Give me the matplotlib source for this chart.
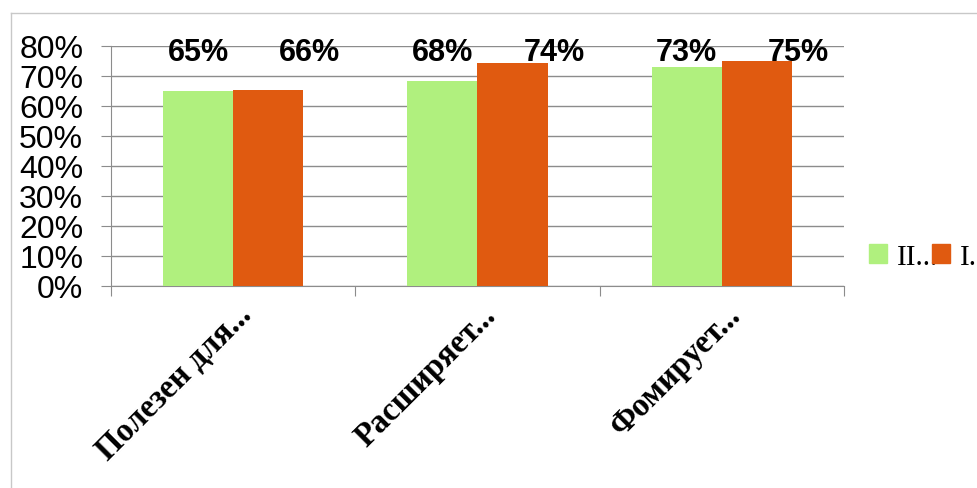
import matplotlib
matplotlib.use("Agg")
import matplotlib.pyplot as plt
import matplotlib.transforms as mtransforms
from matplotlib.ticker import FixedLocator, PercentFormatter
from matplotlib.lines import Line2D
from matplotlib.patches import Patch
import numpy as np

categories = ["Полезен для...", "Расширяет...", "Фомирует..."]
series_names = ["II...", "I..."]
series_ii = [0.65, 0.683, 0.73]
series_i = [0.655, 0.743, 0.751]
labels_ii = ["65%", "68%", "73%"]
labels_i = ["66%", "74%", "75%"]
colors = ["#B0F07E", "#E05A10"]

fig = plt.figure(figsize=(9.78, 4.89), dpi=100)
W, H = 978, 489
ax = fig.add_axes([111 / W, 1 - 287 / H, (844 - 111) / W, (287 - 47) / H])

# chart area border (top and left)
fig.add_artist(Line2D([11 / W, 11 / W], [0, 1 - 14 / H], transform=fig.transFigure, color="#C8C8C8", lw=1))
fig.add_artist(Line2D([11 / W, 1], [1 - 14 / H, 1 - 14 / H], transform=fig.transFigure, color="#C8C8C8", lw=1))

x = np.arange(len(categories))
bw = 0.287
ax.bar(x - bw / 2, series_ii, bw, color=colors[0], zorder=3)
ax.bar(x + bw / 2, series_i, bw, color=colors[1], zorder=3)

ax.set_xlim(-0.5, len(categories) - 0.5)
ax.set_ylim(0, 0.8)
ax.yaxis.set_major_locator(FixedLocator(np.arange(0, 0.81, 0.1)))
ax.yaxis.set_major_formatter(PercentFormatter(1.0, decimals=0))
ax.grid(axis="y", color="#8C8C8C", lw=1, zorder=0)

for s in ["top", "right"]:
    ax.spines[s].set_visible(False)
ax.spines["left"].set_color("#8C8C8C")
ax.spines["bottom"].set_color("#8C8C8C")

ax.tick_params(axis="y", length=7, color="#8C8C8C", pad=13, labelsize=23,
               labelfontfamily="Liberation Sans")
ax.set_xticks(np.arange(-0.5, len(categories)), minor=False)
ax.set_xticklabels([])
ax.tick_params(axis="x", which="major", length=7, color="#8C8C8C")
ax.set_xticks(x, minor=True)
ax.tick_params(axis="x", which="minor", length=0, pad=0)
ax.set_xticklabels(categories, minor=True, rotation=45, ha="right", va="center",
                   rotation_mode="anchor", fontsize=23.5, fontweight="bold",
                   fontfamily="Liberation Serif")
off = mtransforms.ScaledTranslation(14 / 100, -24 / 100, fig.dpi_scale_trans)
for lab in ax.get_xticklabels(minor=True):
    lab.set_transform(lab.get_transform() + off)

for i in range(len(categories)):
    ax.annotate(labels_ii[i], (x[i] - bw / 2, 0.8), xytext=(0, -4), textcoords="offset points",
                ha="center", va="center", fontsize=22, fontweight="bold", fontfamily="Liberation Sans")
    ax.annotate(labels_i[i], (x[i] + bw / 2, 0.8), xytext=(30, -4), textcoords="offset points",
                ha="center", va="center", fontsize=22, fontweight="bold", fontfamily="Liberation Sans")

handles = [Patch(color=colors[0]), Patch(color=colors[1])]
fig.legend(handles, series_names, loc="center left", bbox_to_anchor=(869 / W, 1 - 258 / H),
           frameon=False, ncol=2, handlelength=0.6, handleheight=0.6, handletextpad=0.35,
           columnspacing=-0.2, borderpad=0, borderaxespad=0,
           prop={"family": "Liberation Serif", "size": 21})

fig.savefig("out.png", dpi=100)
